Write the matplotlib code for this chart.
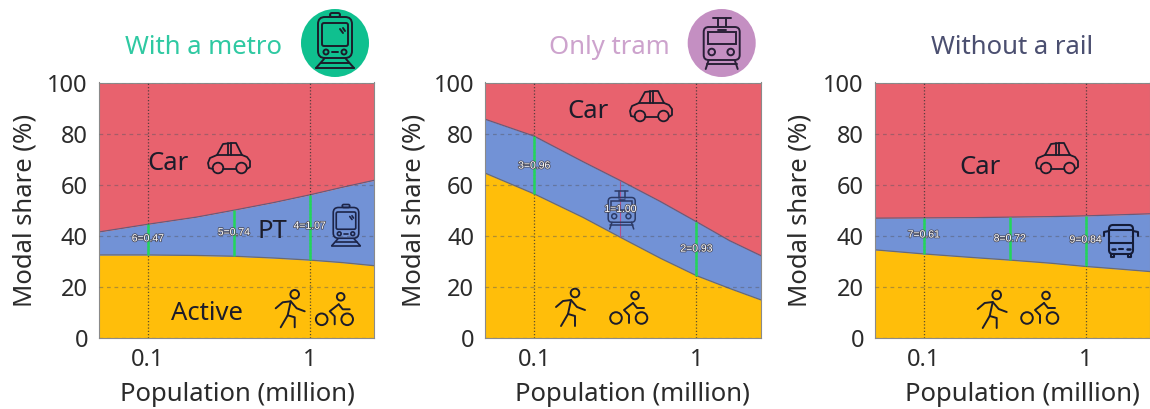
import matplotlib
matplotlib.use('Agg')
import matplotlib.pyplot as plt
import matplotlib.patheffects as pe
from matplotlib.patches import Circle, FancyBboxPatch, Rectangle

plt.rcParams['font.family'] = ['Noto Sans', 'DejaVu Sans']

# population (million) where the band edges were read
pop = [0.05, 0.1, 0.2, 0.34, 0.6, 1, 1.6, 2.5]

metro_active = [32.5, 32.5, 32.3, 32, 31.3, 30.5, 29.5, 28.3]
metro_top = [41.5, 44.5, 47.3, 50, 53, 56, 59, 61.7]
tram_active = [64.5, 56.4, 47.2, 39.4, 31.2, 24.4, 19.4, 14.9]
tram_top = [85.6, 79, 69, 61.6, 53.4, 45.5, 38.1, 32.2]
rail_active = [34.5, 32.9, 31.5, 30.5, 29.3, 28, 27, 26]
rail_top = [46.9, 47, 47.1, 47.3, 47.5, 47.8, 48.2, 48.6]

line_x = [0.1, 0.34, 1]
metro_labels = ['6=0.47', '5=0.74', '4=1.07']
metro_label_y = [39, 41.4, 43.9]
tram_labels = ['3=0.96', '1=1.00', '2=0.93']
tram_label_y = [67.5, 50.5, 35]
rail_labels = ['7=0.61', '8=0.72', '9=0.84']
rail_label_y = [40.5, 39, 38.5]

RED = '#e8626e'
BLUE = '#7292d6'
YELLOW = '#ffbe0a'
GREEN = '#22d65a'
INK = '#1c1c2a'

W, H = 1150, 409
fig = plt.figure(figsize=(W / 100, H / 100), dpi=100)

# overlay in pixels for titles and pictograms
ov = fig.add_axes([0, 0, 1, 1], zorder=10)
ov.set_xlim(0, W)
ov.set_ylim(H, 0)
ov.axis('off')


def make_panel(left, right, active, top, labels, label_y, line_colors, xlabel_x, ylabel_x):
    ax = fig.add_axes([left / W, 1 - 338 / H, (right - left) / W, (338 - 82.5) / H])
    ax.fill_between(pop, 0, active, color=YELLOW, lw=0)
    ax.fill_between(pop, active, top, color=BLUE, lw=0)
    ax.fill_between(pop, top, 100, color=RED, lw=0)
    ax.plot(pop, active, color='#6b6a70', lw=0.9)
    ax.plot(pop, top, color='#6b5a78', lw=0.9)
    ax.set_xscale('log')
    ax.set_xlim(0.05, 2.5)
    ax.set_ylim(0, 100)
    ax.set_xticks([0.1, 1])
    ax.set_xticklabels(['0.1', '1'])
    ax.minorticks_off()
    ax.set_yticks([0, 20, 40, 60, 80, 100])
    ax.tick_params(length=0, labelsize=17, colors='#2b2b2b')
    ax.tick_params(axis='x', pad=7)
    ax.tick_params(axis='y', pad=8)
    ax.grid(axis='y', color='#555560', alpha=0.45, ls=(0, (3, 3)), lw=0.9)
    ax.grid(axis='x', color='#333333', alpha=0.8, ls=(0, (1, 1.6)), lw=0.9)
    ax.set_axisbelow(False)
    for s in ax.spines.values():
        s.set_color('#8a8a8a')
        s.set_linewidth(0.8)
    ax.set_xlabel('Population (million)', fontsize=18.5, color='#2b2b2b')
    ax.xaxis.set_label_coords((xlabel_x - left) / (right - left), -0.223)
    ax.xaxis.label.set_va('center')
    ax.set_ylabel('Modal share (%)', fontsize=18.5, color='#2b2b2b')
    ax.yaxis.set_label_coords((ylabel_x - left) / (right - left), 0.5)
    ax.yaxis.label.set_va('center')
    for x, lo, hi, c in zip(line_x, [active[1], active[3], active[5]],
                            [top[1], top[3], top[5]], line_colors):
        ax.plot([x, x], [lo, hi], color=c, lw=1.8 if c == GREEN else 0.8,
                solid_capstyle='butt', zorder=3)
    # labels go on the overlay so they stay above the pictograms
    for x, y, t in zip(line_x, label_y, labels):
        ov.text(x, y, t, transform=ax.transData, fontsize=7.5, ha='center', va='center',
                color='white', zorder=20, family=['Liberation Sans', 'DejaVu Sans'],
                path_effects=[pe.withStroke(linewidth=1.1, foreground='#4a4a58')])
    return ax


make_panel(99, 374, metro_active, metro_top, metro_labels, metro_label_y,
           [GREEN, GREEN, GREEN], 237, 25)
make_panel(485.3, 761, tram_active, tram_top, tram_labels, tram_label_y,
           [GREEN, '#b0508a', GREEN], 632, 414)
make_panel(875, 1150, rail_active, rail_top, rail_labels, rail_label_y,
           [GREEN, GREEN, GREEN], 1022, 800)


def line(pts, cx, cy, s, c, lw):
    ov.plot([cx + p[0] * s for p in pts], [cy + p[1] * s for p in pts],
            color=c, lw=lw, solid_capstyle='round', solid_joinstyle='round')


def ring(x, y, r, cx, cy, s, c, lw, fc='none'):
    ov.add_patch(Circle((cx + x * s, cy + y * s), r * s, fc=fc, ec=c, lw=lw))


def box(x0, y0, x1, y1, rad, cx, cy, s, c, lw):
    ov.add_patch(FancyBboxPatch((cx + x0 * s, cy + y0 * s), (x1 - x0) * s, (y1 - y0) * s,
                                boxstyle=f'round,pad=0,rounding_size={rad * s}',
                                fc='none', ec=c, lw=lw))


def car(cx, cy, c=INK, lw=1.3):
    # cx, cy is the middle of the icon
    s = 1
    line([(-16, 11), (-20, 10), (-21, 5), (-19, 0), (-12, -3), (-6, -14), (2, -15), (7, -15),
          (13, -3), (18, -1), (21, 3), (21, 9), (18, 11)], cx, cy, s, c, lw)
    line([(-6, 11), (7, 11)], cx, cy, s, c, lw)
    line([(-12, -3), (13, -3)], cx, cy, s, c, lw)
    line([(-1, -15), (-1, -3)], cx, cy, s, c, lw)
    line([(2, -15), (2, -3)], cx, cy, s, c, lw)
    ring(-11, 10, 5.3, cx, cy, s, c, lw)
    ring(12.5, 10, 5.3, cx, cy, s, c, lw)


def walker(cx, cy, c=INK, lw=1.4):
    # cx, cy is the head
    s = 1
    ring(0, 0, 4.3, cx, cy, s, c, lw)
    line([(-4, 7), (-7, 21), (-14, 33)], cx, cy, s, c, lw)
    line([(-7, 21), (0, 23), (0, 33)], cx, cy, s, c, lw)
    line([(-19, 14), (-12, 8), (-4, 7), (2, 14), (10, 17)], cx, cy, s, c, lw)


def cyclist(cx, cy, c=INK, lw=1.4):
    # cx, cy is the rear wheel hub
    s = 1
    ring(0, 0, 5.8, cx, cy, s, c, lw)
    ring(25.5, 0, 5.8, cx, cy, s, c, lw)
    ring(19, -22.5, 3.8, cx, cy, s, c, lw)
    line([(17, -15), (8, -8), (13, -3), (13, 5)], cx, cy, s, c, lw)
    line([(17, -15), (21, -10), (28, -10)], cx, cy, s, c, lw)


def metro(cx, cy, s, c=INK, lw=1.5):
    box(-17, -26, 17, 15, 7, cx, cy, s, c, lw)
    box(-13, -20, 13, 3, 2, cx, cy, s, c, lw)
    ov.add_patch(FancyBboxPatch((cx - 5 * s, cy - 30 * s), 10 * s, 4 * s,
                                boxstyle=f'round,pad=0,rounding_size={2 * s}', fc='none', ec=c, lw=lw))
    ring(-9, 9, 2.5, cx, cy, s, c, lw)
    ring(9, 9, 2.5, cx, cy, s, c, lw)
    line([(-3, 9), (3, 9)], cx, cy, s, c, lw)
    line([(5, -14), (8, -10)], cx, cy, s, c, lw)
    line([(8, -15), (10, -12)], cx, cy, s, c, lw)
    line([(-11, 16), (-19, 25)], cx, cy, s, c, lw)
    line([(11, 16), (19, 25)], cx, cy, s, c, lw)
    line([(-14, 20), (14, 20)], cx, cy, s, c, lw)
    line([(-19, 25), (19, 25)], cx, cy, s, c, lw)


def tram(cx, cy, s, c=INK, lw=1.5):
    box(-18, -16, 18, 17, 5, cx, cy, s, c, lw)
    ov.add_patch(Rectangle((cx - 14 * s, cy - 11 * s), 28 * s, 12 * s, fc='none', ec=c, lw=lw))
    line([(-9, -25), (9, -25)], cx, cy, s, c, lw)
    line([(-4, -25), (-4, -16)], cx, cy, s, c, lw)
    line([(4, -25), (4, -16)], cx, cy, s, c, lw)
    line([(-4, -13), (4, -13)], cx, cy, s, c, lw)
    ring(-10, 9, 3.3, cx, cy, s, c, lw)
    ring(9, 9, 3.3, cx, cy, s, c, lw)
    line([(-13, 17), (-16, 26)], cx, cy, s, c, lw)
    line([(13, 17), (16, 26)], cx, cy, s, c, lw)
    line([(-15, 21), (15, 21)], cx, cy, s, c, lw)


def bus(cx, cy, c=INK, lw=1.5):
    s = 1
    box(-12, -16, 12, 13, 4, cx, cy, s, c, lw)
    line([(-12, 2), (12, 2)], cx, cy, s, c, lw)
    line([(-12, -11), (12, -11)], cx, cy, s, c, lw)
    line([(-12, -10), (-17, -9), (-17, -5)], cx, cy, s, c, lw)
    line([(12, -10), (17, -9), (17, -5)], cx, cy, s, c, lw)
    line([(-10, 13), (-10, 16), (-7, 16), (-7, 13)], cx, cy, s, c, lw)
    line([(7, 13), (7, 16), (10, 16), (10, 13)], cx, cy, s, c, lw)
    line([(-9, 8), (-6, 8)], cx, cy, s, c, lw + 0.3)
    line([(-2, 8), (2, 8)], cx, cy, s, c, lw)
    line([(6, 8), (9, 8)], cx, cy, s, c, lw + 0.3)


ov.text(203.5, 47.5, 'With a metro', color='#2fc9a2', fontsize=18.5, ha='center', va='center')
ov.text(609, 47.5, 'Only tram', color='#cda3cd', fontsize=18.5, ha='center', va='center')
ov.text(1012.5, 47.5, 'Without a rail', color='#4b4f70', fontsize=18.5, ha='center', va='center')

ov.add_patch(Circle((335, 43), 34, fc='#0fc08f', ec='none'))
metro(335, 43, 1, lw=1.4)
ov.add_patch(Circle((721.7, 43), 34, fc='#c48fc2', ec='none'))
tram(721.7, 43, 1, c='#2a2038', lw=1.4)

for x, y, t in [(168, 163, 'Car'), (272, 232, 'PT'), (207, 314, 'Active'),
                (588, 112, 'Car'), (980, 167, 'Car')]:
    ov.text(x, y, t, color=INK, fontsize=18.5, ha='center', va='center')

car(229, 158)
car(651, 106)
car(1057, 158)
metro(346, 227, 0.75, c='#1c2448', lw=1.2)
tram(621.7, 209.5, 0.75, c='#2c3a66', lw=1.1)
bus(1121, 241, c='#141c38', lw=1.5)
walker(294.7, 294.3)
walker(575, 293)
walker(996.7, 295)
cyclist(321.7, 319.3)
cyclist(616, 318)
cyclist(1027, 318)

fig.savefig('out.png', dpi=100)
